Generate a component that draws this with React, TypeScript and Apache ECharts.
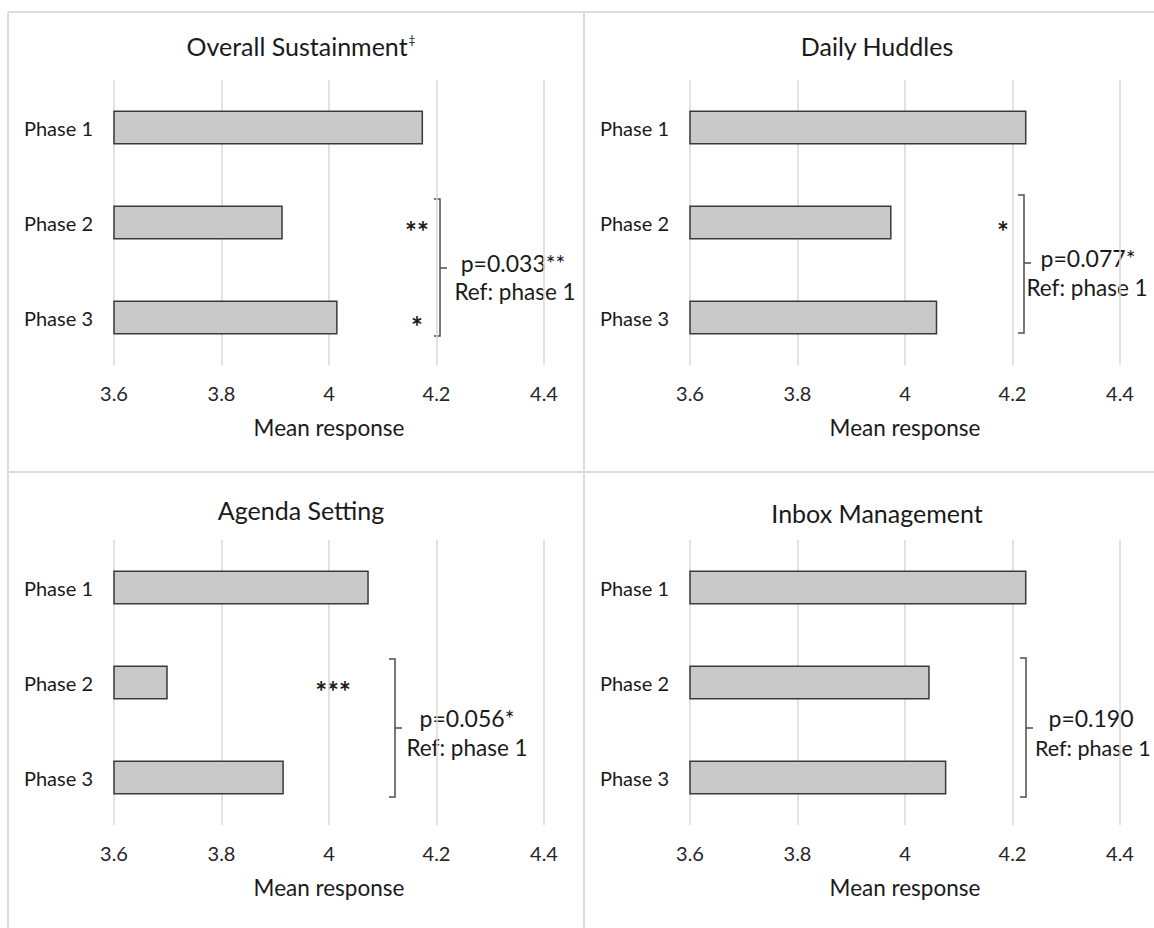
import React, { useEffect, useRef } from "react";
import * as echarts from "echarts";

// ---------- data ----------
const categories = ["Phase 1", "Phase 2", "Phase 3"];
const panelTitles = ["Overall Sustainment", "Daily Huddles", "Agenda Setting", "Inbox Management"];
const titleMarks = ["‡", "", "", ""];
const overallValues = [4.175, 3.914, 4.016];
const huddlesValues = [4.226, 3.975, 4.06];
const agendaValues = [4.074, 3.7, 3.916];
const inboxValues = [4.226, 4.046, 4.077];
const xMin = 3.6;
const xMax = 4.4;
const xStep = 0.2;
const axisName = "Mean response";
const pLabels = ["p=0.033**", "p=0.077*", "p=0.056*", "p=0.190"];
const refLabel = "Ref: phase 1";
const starMarks = [
  ["", "**", "*"],
  ["", "*", ""],
  ["", "***", ""],
  ["", "", ""],
];

const seriesValues = [overallValues, huddlesValues, agendaValues, inboxValues];

// ---------- layout ----------
const FONT = "Lato";
const TEXT = "#1a1a1a";
const origins = [
  [8, 12],
  [584, 12],
  [8, 472],
  [584, 472],
];
const GRID_LEFT = 106;
const GRID_TOP = 68;
const GRID_W = 430;
const GRID_H = 285;
const titleCenters = [43, 43, 507, 510];
const brackets = [
  { x: 440, y1: 199, y2: 336, ym: 268 },
  { x: 1024, y1: 195, y2: 333, ym: 263 },
  { x: 395, y1: 659, y2: 797, ym: 728 },
  { x: 1026, y1: 658, y2: 797, ym: 728 },
];
const pPos = [
  { x: 513, y: 263, align: "center" },
  { x: 1088, y: 258, align: "center" },
  { x: 467, y: 718, align: "center" },
  { x: 1091, y: 718, align: "center" },
];
const refPos = [
  { x: 515, y: 291, align: "center" },
  { x: 1087, y: 287, align: "center" },
  { x: 467, y: 747, align: "center" },
  { x: 1035, y: 748, align: "left" },
];
const refSizes = [22.5, 22.5, 22.5, 21.5];
const starX = [417, 1003, 333, 0];
const STAR_DY = 8;

export default function App() {
  const ref = useRef<HTMLDivElement>(null);

  useEffect(() => {
    if (!ref.current) return;
    const chart = echarts.init(ref.current, null, { renderer: "svg" });

    const grids: any[] = [];
    const xAxes: any[] = [];
    const yAxes: any[] = [];
    const series: any[] = [];
    const titles: any[] = [];
    const graphics: any[] = [];

    origins.forEach(([ox, oy], i) => {
      grids.push({
        left: ox + GRID_LEFT,
        top: oy + GRID_TOP,
        width: GRID_W,
        height: GRID_H,
        containLabel: false,
      });
      xAxes.push({
        gridIndex: i,
        type: "value",
        min: xMin,
        max: xMax,
        interval: xStep,
        axisLine: { show: false },
        axisTick: { show: false },
        axisLabel: {
          margin: 18,
          fontFamily: FONT,
          fontSize: 20,
          color: "#262626",
        },
        splitLine: { show: true, lineStyle: { color: "#d9d9d9", width: 1.5 } },
        name: axisName,
        nameLocation: "middle",
        nameGap: 51,
        nameTextStyle: { fontFamily: FONT, fontSize: 22.5, color: TEXT },
      });
      yAxes.push({
        gridIndex: i,
        type: "category",
        inverse: true,
        data: categories,
        axisLine: { show: false },
        axisTick: { show: false },
        axisLabel: {
          margin: 21,
          fontFamily: FONT,
          fontSize: 20,
          color: TEXT,
        },
        splitLine: { show: false },
      });
      series.push({
        type: "bar",
        xAxisIndex: i,
        yAxisIndex: i,
        data: seriesValues[i],
        barWidth: 34,
        itemStyle: { color: "#c9c9c9", borderColor: "#3a3a3a", borderWidth: 1.5 },
        silent: true,
      });
      const mark = titleMarks[i];
      titles.push({
        text: mark ? `{t|${panelTitles[i]}}{s|${mark}}` : `{t|${panelTitles[i]}}`,
        left: ox + 288,
        top: titleCenters[i] - 15,
        textAlign: "center",
        textStyle: {
          fontFamily: FONT,
          fontSize: 25,
          fontWeight: "normal",
          color: TEXT,
          rich: {
            t: { fontFamily: FONT, fontSize: 25, color: TEXT },
            s: { fontFamily: FONT, fontSize: 12, color: TEXT, verticalAlign: "top", padding: [0, 0, 13, 1] },
          },
        },
      });

      // bracket
      const b = brackets[i];
      graphics.push({
        type: "polyline",
        shape: {
          points: [
            [b.x - 6, b.y1],
            [b.x, b.y1],
            [b.x, b.y2],
            [b.x - 6, b.y2],
          ],
        },
        style: { stroke: "#4d4d4d", lineWidth: 1.5, fill: null },
        silent: true,
      });
      graphics.push({
        type: "line",
        shape: { x1: b.x, y1: b.ym, x2: b.x + 7, y2: b.ym },
        style: { stroke: "#4d4d4d", lineWidth: 1.5 },
        silent: true,
      });
      graphics.push({
        type: "text",
        x: pPos[i].x,
        y: pPos[i].y,
        style: {
          text: pLabels[i],
          font: `23px ${FONT}`,
          fill: TEXT,
          textAlign: pPos[i].align,
          textVerticalAlign: "middle",
        },
        silent: true,
      });
      graphics.push({
        type: "text",
        x: refPos[i].x,
        y: refPos[i].y,
        style: {
          text: refLabel,
          font: `${refSizes[i]}px ${FONT}`,
          fill: TEXT,
          textAlign: refPos[i].align,
          textVerticalAlign: "middle",
        },
        silent: true,
      });
      // stars
      const band = GRID_H / categories.length;
      starMarks[i].forEach((s, k) => {
        if (!s) return;
        graphics.push({
          type: "text",
          x: starX[i],
          y: oy + GRID_TOP + (k + 0.5) * band + STAR_DY,
          style: {
            text: s,
            font: `bold 28px ${FONT}`,
            fill: TEXT,
            textAlign: "center",
            textVerticalAlign: "middle",
          },
          silent: true,
        });
      });
    });

    // panel borders
    const borderStyle = { stroke: "#dcdcdc", lineWidth: 2 };
    graphics.push(
      { type: "line", shape: { x1: 8, y1: 12, x2: 1154, y2: 12 }, style: borderStyle, silent: true },
      { type: "line", shape: { x1: 8, y1: 472, x2: 1154, y2: 472 }, style: borderStyle, silent: true },
      { type: "line", shape: { x1: 8, y1: 12, x2: 8, y2: 928 }, style: borderStyle, silent: true },
      { type: "line", shape: { x1: 584, y1: 12, x2: 584, y2: 928 }, style: borderStyle, silent: true }
    );

    chart.setOption({
      animation: false,
      backgroundColor: "#ffffff",
      title: titles,
      grid: grids,
      xAxis: xAxes,
      yAxis: yAxes,
      series,
      graphic: graphics,
    });

    return () => {
      chart.dispose();
    };
  }, []);

  return (
    <div
      ref={ref}
      style={{ position: "absolute", left: 0, top: 0, width: 1154, height: 928, background: "#fff" }}
    />
  );
}
